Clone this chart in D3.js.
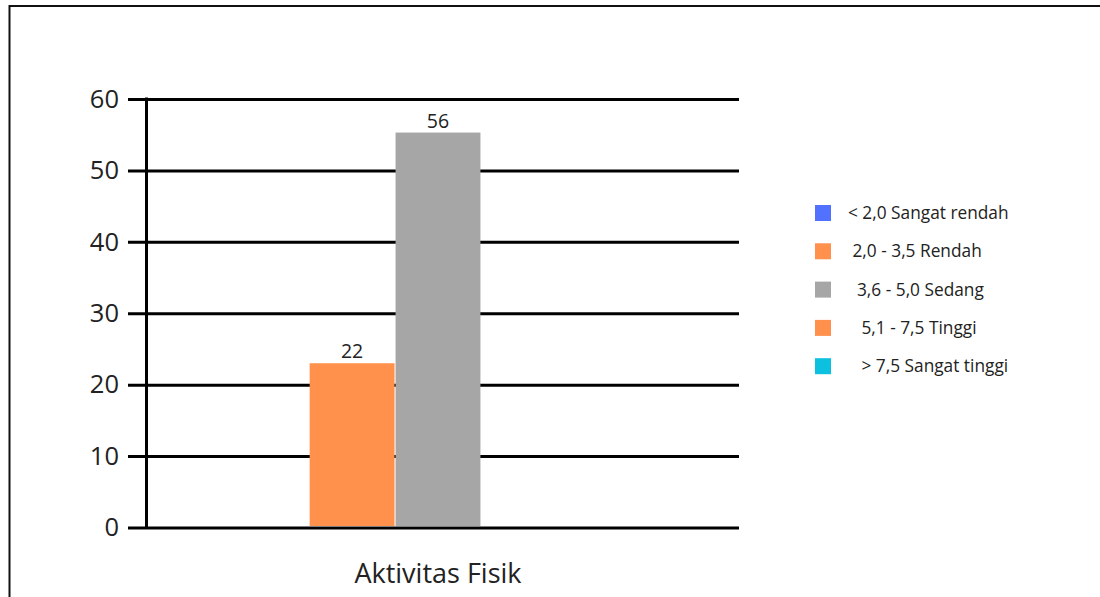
<!DOCTYPE html>
<html>
<head>
<meta charset="utf-8">
<script src="https://cdn.jsdelivr.net/npm/d3@7"></script>
<style>
html,body{margin:0;padding:0;background:#fff;}
svg{display:block;}
text{font-family:"Open Sans",sans-serif;}
</style>
</head>
<body>
<svg id="chart" width="1100" height="597"></svg>
<script>
// ---- data ----
const categories = ["Aktivitas Fisik"];
const seriesNames = [
  "< 2,0 Sangat rendah",
  " 2,0 - 3,5 Rendah",
  "  3,6 - 5,0 Sedang",
  "   5,1 - 7,5 Tinggi",
  "   > 7,5 Sangat tinggi"
];
const seriesColors = ["#5271FF", "#FF914D", "#A6A6A6", "#FF914D", "#0CC0DF"];
const barValues = [0, 23, 55.3, 0, 0];       // bar heights as drawn
const barLabels = ["", "22", "56", "", ""];  // value labels as printed
const yTicks = [0, 10, 20, 30, 40, 50, 60];

// ---- layout ----
const svg = d3.select("#chart");

// frame
svg.append("path")
  .attr("d", "M9.5,600 L9.5,6 L1105,6")
  .attr("fill", "none").attr("stroke", "#111").attr("stroke-width", 2);

const y = d3.scaleLinear().domain([0, 60]).range([527.5, 99]);
const x0 = d3.scaleBand().domain(categories).range([137, 739]).paddingOuter(0.2025).paddingInner(0);
const x1 = d3.scaleBand().domain(d3.range(seriesNames.length)).range([0, x0.bandwidth()]).paddingInner(0.012).paddingOuter(0);

// gridlines + tick labels via axis
const yAxis = d3.axisLeft(y).tickValues(yTicks).tickSize(-(739 - 128)).tickPadding(9);
const gy = svg.append("g").attr("transform", "translate(128,0)").call(yAxis);
gy.select(".domain").remove();
gy.selectAll(".tick line").attr("stroke", "#000").attr("stroke-width", 3);
gy.selectAll(".tick text").attr("font-size", 25.5).attr("fill", "#222")
  .attr("font-family", "'Open Sans', sans-serif");

// y axis line
svg.append("line")
  .attr("x1", 146.5).attr("x2", 146.5)
  .attr("y1", y(60) - 1.5).attr("y2", y(0) + 1.5)
  .attr("stroke", "#000").attr("stroke-width", 3);

// bars
const g = svg.append("g").attr("transform", `translate(${x0(categories[0])},0)`);
g.selectAll("rect").data(barValues).join("rect")
  .attr("x", (d, i) => x1(i))
  .attr("width", x1.bandwidth())
  .attr("y", d => y(d))
  .attr("height", d => y(0) - 1.5 - y(d))
  .attr("fill", (d, i) => seriesColors[i]);

g.selectAll("text.val").data(barValues).join("text")
  .attr("class", "val")
  .attr("x", (d, i) => x1(i) + x1.bandwidth() / 2)
  .attr("y", d => y(d) - 5)
  .attr("text-anchor", "middle")
  .attr("font-size", 19.5).attr("fill", "#222")
  .text((d, i) => barLabels[i]);

// x category label
svg.append("text")
  .attr("x", x0(categories[0]) + x0.bandwidth() / 2)
  .attr("y", 583)
  .attr("text-anchor", "middle")
  .attr("font-size", 27).attr("fill", "#222")
  .text(categories[0]);

// legend
const lg = svg.append("g").attr("transform", "translate(815,213)");
const row = lg.selectAll("g").data(seriesNames).join("g")
  .attr("transform", (d, i) => `translate(0,${i * 38.3})`);
row.append("rect").attr("x", 0).attr("y", -8).attr("width", 16).attr("height", 16)
  .attr("fill", (d, i) => seriesColors[i]);
row.append("text").attr("x", 33).attr("y", 6)
  .attr("font-size", 17.3).attr("fill", "#222")
  .style("white-space", "pre")
  .text(d => d);
</script>
</body>
</html>
